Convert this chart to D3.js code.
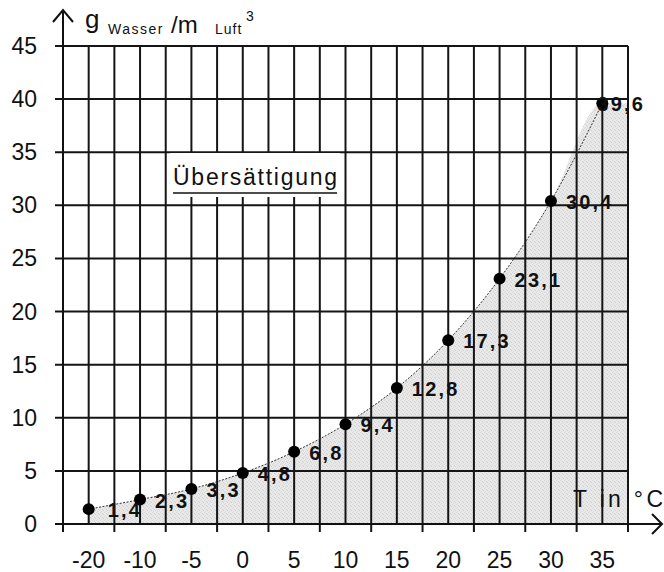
<!DOCTYPE html>
<html>
<head>
<meta charset="utf-8">
<script src="https://cdn.jsdelivr.net/npm/d3@7"></script>
<style>
  body { margin: 0; background: #fff; }
  text { font-family: "Liberation Sans", Arial, sans-serif; fill: #111; }
</style>
</head>
<body>
<div id="chart"></div>
<script>
// temperature categories (x) and saturation humidity in g/m3 (y)
const temps = [-20, -10, -5, 0, 5, 10, 15, 20, 25, 30, 35];
const values = [1.4, 2.3, 3.3, 4.8, 6.8, 9.4, 12.8, 17.3, 23.1, 30.4, 39.6];
const pointLabels = ["1,4", "2,3", "3,3", "4,8", "6,8", "9,4", "12,8", "17,3", "23,1", "30,4", "39,6"];
const yTicks = [0, 5, 10, 15, 20, 25, 30, 35, 40, 45];

var width = 664, height = 572;
var margin = {top: 46, right: 36, bottom: 48, left: 63};

var svg = d3.select("#chart")
  .append("svg")
    .attr("width", width)
    .attr("height", height);

var x = d3.scaleBand()
  .domain(temps)
  .range([margin.left, width - margin.right]);
var bw = x.bandwidth();
var cx = function(t) { return x(t) + bw / 2; };

var y = d3.scaleLinear()
  .domain([0, 45])
  .range([height - margin.bottom, margin.top]);

var x0 = x.range()[0], x1 = x.range()[1];
var y0 = y(0), yTop = y(45);

// stipple pattern for the shaded region
var defs = svg.append("defs");
var pat = defs.append("pattern")
  .attr("id", "stipple")
  .attr("width", 4).attr("height", 4)
  .attr("patternUnits", "userSpaceOnUse");
pat.append("rect").attr("width", 4).attr("height", 4).attr("fill", "#e9e9e9");
[[0, 0], [2, 1], [1, 3], [3, 2]].forEach(function(p, i) {
  pat.append("rect").attr("x", p[0]).attr("y", p[1])
    .attr("width", 1).attr("height", 1)
    .attr("fill", i % 2 ? "#cfcfcf" : "#d8d8d8");
});

// shaded area under the curve, carried flat to the right edge
var areaPts = temps.map(function(t, i) { return [cx(t), y(values[i])]; });
areaPts.push([x1, y(values[values.length - 1])]);
svg.append("path")
  .datum(areaPts)
  .attr("fill", "url(#stipple)")
  .attr("d", d3.area()
    .x(function(d) { return d[0]; })
    .y0(y0)
    .y1(function(d) { return d[1]; })
    .curve(d3.curveMonotoneX));

// grid: verticals at every band edge and band centre
var grid = svg.append("g").attr("stroke", "#151515").attr("stroke-width", 2);
var vx = [];
temps.forEach(function(t) { vx.push(x(t)); vx.push(cx(t)); });
vx.push(x1);
grid.selectAll("line.v")
  .data(vx)
  .enter()
  .append("line")
    .attr("x1", function(d) { return d; })
    .attr("x2", function(d) { return d; })
    .attr("y1", yTop)
    .attr("y2", y0);
// tick marks below the axis at band edges
grid.selectAll("line.t")
  .data(temps.map(function(t) { return x(t); }).concat([x1]))
  .enter()
  .append("line")
    .attr("x1", function(d) { return d; })
    .attr("x2", function(d) { return d; })
    .attr("y1", y0)
    .attr("y2", y0 + 8);
grid.selectAll("line.h")
  .data(yTicks.slice(1))
  .enter()
  .append("line")
    .attr("x1", x0 - 8)
    .attr("x2", x1)
    .attr("y1", function(d) { return y(d); })
    .attr("y2", function(d) { return y(d); });

// "Übersättigung" box
svg.append("rect")
  .attr("x", 170).attr("y", 153)
  .attr("width", 170).attr("height", 44)
  .attr("fill", "#fff");
svg.append("text")
  .attr("x", 173).attr("y", 185)
  .attr("font-size", 23)
  .attr("textLength", 164)
  .attr("lengthAdjust", "spacing")
  .text("Übersättigung");
svg.append("line")
  .attr("x1", 173).attr("x2", 337)
  .attr("y1", 193).attr("y2", 193)
  .attr("stroke", "#111").attr("stroke-width", 1.5);

// dotted curve
svg.append("path")
  .datum(temps)
  .attr("fill", "none")
  .attr("stroke", "#333")
  .attr("stroke-width", 1)
  .attr("stroke-dasharray", "2,1.5")
  .attr("d", d3.line()
    .x(function(t) { return cx(t); })
    .y(function(t, i) { return y(values[i]); })
    .curve(d3.curveMonotoneX));

// points
svg.selectAll("circle.pt")
  .data(temps)
  .enter()
  .append("circle")
    .attr("cx", function(t) { return cx(t); })
    .attr("cy", function(t, i) { return y(values[i]); })
    .attr("r", 6)
    .attr("fill", "#000");

// value labels
svg.selectAll("text.val")
  .data(temps)
  .enter()
  .append("text")
    .attr("x", function(t, i) { return cx(t) + (i === temps.length - 1 ? -5 : (i === 0 ? 19 : 15)); })
    .attr("y", function(t, i) { return y(values[i]) + 8; })
    .attr("font-size", 20)
    .attr("font-weight", "bold")
    .attr("letter-spacing", 2.2)
    .text(function(t, i) { return pointLabels[i]; });

// axes
var ax = svg.append("g").attr("stroke", "#111").attr("stroke-width", 2).attr("fill", "none");
ax.append("line").attr("x1", x0).attr("x2", x0).attr("y1", y0 + 8).attr("y2", 10);
ax.append("line").attr("x1", x0 - 8).attr("x2", 662).attr("y1", y0).attr("y2", y0);
ax.append("path").attr("d", "M" + (x0 - 10) + ",22L" + x0 + ",10L" + (x0 + 10) + ",22");
ax.append("path").attr("d", "M652," + (y0 - 10) + "L662," + y0 + "L652," + (y0 + 10));

// y tick labels
svg.selectAll("text.yl")
  .data(yTicks)
  .enter()
  .append("text")
    .attr("x", 37)
    .attr("y", function(d) { return y(d) + 8; })
    .attr("text-anchor", "end")
    .attr("font-size", 23)
    .text(function(d) { return d; });

// x tick labels
svg.selectAll("text.xl")
  .data(temps)
  .enter()
  .append("text")
    .attr("x", function(t) { return cx(t); })
    .attr("y", 568)
    .attr("text-anchor", "middle")
    .attr("font-size", 23)
    .text(function(t) { return t; });

// axis titles
var ttl = svg.append("text").attr("y", 33);
ttl.append("tspan").attr("x", 85).attr("y", 28).attr("font-size", 26).text("g");
ttl.append("tspan").attr("x", 108).attr("y", 34).attr("font-size", 14).attr("letter-spacing", 1.5).text("Wasser");
ttl.append("tspan").attr("x", 171).attr("y", 33).attr("font-size", 24).text("/m");
ttl.append("tspan").attr("x", 215).attr("y", 34).attr("font-size", 14).attr("letter-spacing", 1).text("Luft");
ttl.append("tspan").attr("x", 246).attr("y", 21).attr("font-size", 14).text("3");

svg.append("text")
  .attr("x", 573).attr("y", 507)
  .attr("font-size", 23)
  .attr("textLength", 90)
  .attr("lengthAdjust", "spacing")
  .text("T in °C");
</script>
</body>
</html>
